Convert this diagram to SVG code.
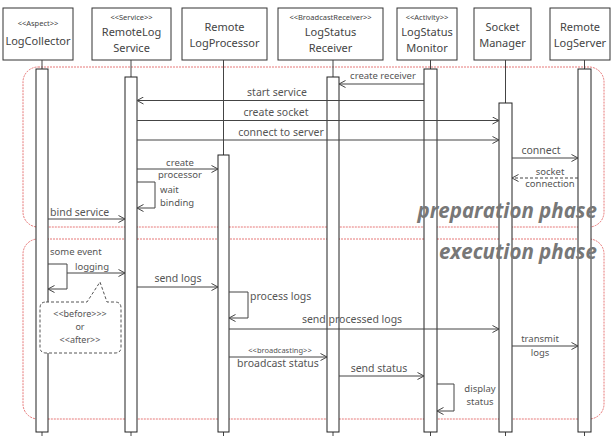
<svg xmlns="http://www.w3.org/2000/svg" width="613" height="436" viewBox="0 0 613 436">
<style>
.box{fill:#fff;stroke:#333;stroke-width:1}
.st{font-family:"Noto Sans","Open Sans",sans-serif;font-size:7.5px;fill:#444;text-anchor:middle}
.nm{font-family:"Noto Sans","Open Sans",sans-serif;font-size:11px;fill:#444;text-anchor:middle}
.life{stroke:#444;stroke-width:1}
.bar{fill:#fff;stroke:#222;stroke-width:1}
.msg{stroke:#444;stroke-width:1;fill:none;marker-end:url(#arr)}
.dash{stroke-dasharray:3,2}
.lb{font-family:"Noto Sans","Open Sans",sans-serif;font-size:10.5px;fill:#555}
.sm{font-family:"Noto Sans","Open Sans",sans-serif;font-size:9.5px;fill:#555}
.c{text-anchor:middle}
.frame{fill:none;stroke:#e05555;stroke-width:0.8;stroke-dasharray:2,1}
.phase{font-family:"Open Sans","Noto Sans",sans-serif;font-size:20.5px;font-weight:bold;font-style:italic;fill:#777;text-anchor:end}
</style>
<defs>
<marker id="arr" markerWidth="8" markerHeight="8" refX="7" refY="4" orient="auto" markerUnits="userSpaceOnUse">
<path d="M0.5,0.5 L7,4 L0.5,7.5" fill="none" stroke="#444" stroke-width="1"/>
</marker>
</defs>
<rect width="613" height="436" fill="#fff"/>
<g id="frames">
<rect class="frame" x="23" y="67" width="581" height="160" rx="15"/>
<rect class="frame" x="23" y="239" width="581" height="180" rx="15"/>
</g>
<g id="n-logcollector">
<rect class="box" x="3" y="8" width="70" height="52"/>
<text class="st" x="38" y="26">&lt;&lt;Aspect&gt;&gt;</text>
<text class="nm" x="38" y="45">LogCollector</text>
<line class="life" x1="42" y1="60" x2="42" y2="436"/>
<rect class="bar" x="36" y="69" width="12" height="363"/>
</g>
<g id="n-remotelogservice">
<rect class="box" x="92" y="8" width="79" height="52"/>
<text class="st" x="131.5" y="20">&lt;&lt;Service&gt;&gt;</text>
<text class="nm" x="131.5" y="36">RemoteLog</text>
<text class="nm" x="131.5" y="52">Service</text>
<line class="life" x1="131" y1="60" x2="131" y2="436"/>
<rect class="bar" x="125" y="77" width="12" height="355"/>
</g>
<g id="n-remotelogprocessor">
<rect class="box" x="182" y="8" width="85" height="52"/>
<text class="nm" x="224.5" y="31">Remote</text>
<text class="nm" x="224.5" y="47">LogProcessor</text>
<line class="life" x1="223.5" y1="60" x2="223.5" y2="436"/>
<rect class="bar" x="218" y="155" width="11" height="277"/>
</g>
<g id="n-logstatusreceiver">
<rect class="box" x="278" y="8" width="105" height="52"/>
<text class="st" x="330.5" y="20">&lt;&lt;BroadcastReceiver&gt;&gt;</text>
<text class="nm" x="330.5" y="36">LogStatus</text>
<text class="nm" x="330.5" y="52">Receiver</text>
<line class="life" x1="333" y1="60" x2="333" y2="436"/>
<rect class="bar" x="327" y="77" width="12" height="355"/>
</g>
<g id="n-logstatusmonitor">
<rect class="box" x="397" y="8" width="60" height="52"/>
<text class="st" x="427" y="20">&lt;&lt;Activity&gt;&gt;</text>
<text class="nm" x="427" y="36">LogStatus</text>
<text class="nm" x="427" y="52">Monitor</text>
<line class="life" x1="430.5" y1="60" x2="430.5" y2="436"/>
<rect class="bar" x="424" y="69" width="13" height="363"/>
</g>
<g id="n-socketmanager">
<rect class="box" x="474" y="8" width="57" height="52"/>
<text class="nm" x="502.5" y="31">Socket</text>
<text class="nm" x="502.5" y="47">Manager</text>
<line class="life" x1="505.5" y1="60" x2="505.5" y2="436"/>
<rect class="bar" x="499" y="103" width="13" height="329"/>
</g>
<g id="n-remotelogserver">
<rect class="box" x="550" y="8" width="60" height="52"/>
<text class="nm" x="580" y="31">Remote</text>
<text class="nm" x="580" y="47">LogServer</text>
<line class="life" x1="584.5" y1="60" x2="584.5" y2="436"/>
<rect class="bar" x="578" y="69" width="13" height="363"/>
</g>
<g id="connectors">
<line class="msg" x1="424" y1="84" x2="339" y2="84"/>
<line class="msg" x1="424" y1="100.5" x2="137" y2="100.5"/>
<line class="msg" x1="137" y1="120.5" x2="499" y2="120.5"/>
<line class="msg" x1="137" y1="140" x2="499" y2="140"/>
<line class="msg" x1="512" y1="158" x2="578" y2="158"/>
<line class="msg dash" x1="578" y1="178" x2="512" y2="178"/>
<line class="msg" x1="137" y1="169" x2="218" y2="169"/>
<path class="msg" d="M137,182 H155 V208 H137"/>
<line class="msg" x1="48" y1="219" x2="125" y2="219"/>
<path class="msg" d="M48,264 H67 V289 H48"/>
<line class="msg" x1="67" y1="273" x2="125" y2="273"/>
<line class="msg" x1="137" y1="287" x2="218" y2="287"/>
<path class="msg" d="M229,292 H248 V318 H229"/>
<line class="msg" x1="229" y1="329" x2="499" y2="329"/>
<line class="msg" x1="229" y1="357" x2="327" y2="357"/>
<line class="msg" x1="339" y1="376" x2="424" y2="376"/>
<path class="msg" d="M437,384 H454 V411 H437"/>
<line class="msg" x1="512" y1="346" x2="578" y2="346"/>
</g>
<g id="labels">
<text class="sm c" x="383" y="79">create receiver</text>
<text class="lb c" x="277" y="96">start service</text>
<text class="lb c" x="276" y="116">create socket</text>
<text class="lb c" x="281" y="136">connect to server</text>
<text class="lb c" x="541" y="154">connect</text>
<text class="sm c" x="550" y="175">socket</text>
<text class="sm c" x="550" y="187">connection</text>
<text class="sm c" x="180" y="166">create</text>
<text class="sm c" x="180" y="178">processor</text>
<text class="sm" x="160" y="193">wait</text>
<text class="sm" x="160" y="206">binding</text>
<text class="lb" x="50" y="216">bind service</text>
<text class="sm" x="50" y="255">some event</text>
<text class="sm c" x="92" y="270">logging</text>
<text class="lb c" x="178" y="282">send logs</text>
<text class="lb" x="250" y="300">process logs</text>
<text class="lb c" x="352" y="323">send processed logs</text>
<text class="sm c" x="280" y="353" style="font-size:7.5px">&lt;&lt;broadcasting&gt;&gt;</text>
<text class="lb c" x="278" y="367">broadcast status</text>
<text class="lb c" x="379" y="372">send status</text>
<text class="sm c" x="480" y="392">display</text>
<text class="sm c" x="480" y="405">status</text>
<text class="sm c" x="540" y="342">transmit</text>
<text class="sm c" x="540" y="356">logs</text>
</g>
<g id="callout">
<path d="M46,302 H87 L100,282 L107,302 H115 Q121,302 121,308 V347 Q121,353 115,353 H46 Q40,353 40,347 V308 Q40,302 46,302 Z" fill="#fff" stroke="#555" stroke-width="1" stroke-dasharray="3,2"/>
<text class="sm c" x="80" y="317" style="font-size:9px">&lt;&lt;before&gt;&gt;&gt;</text>
<text class="sm c" x="80" y="330" style="font-size:9px">or</text>
<text class="sm c" x="80" y="343" style="font-size:9px">&lt;&lt;after&gt;&gt;</text>
</g>
<g id="phases">
<text class="phase" x="597" y="218">preparation phase</text>
<text class="phase" x="597" y="259">execution phase</text>
</g>
</svg>
